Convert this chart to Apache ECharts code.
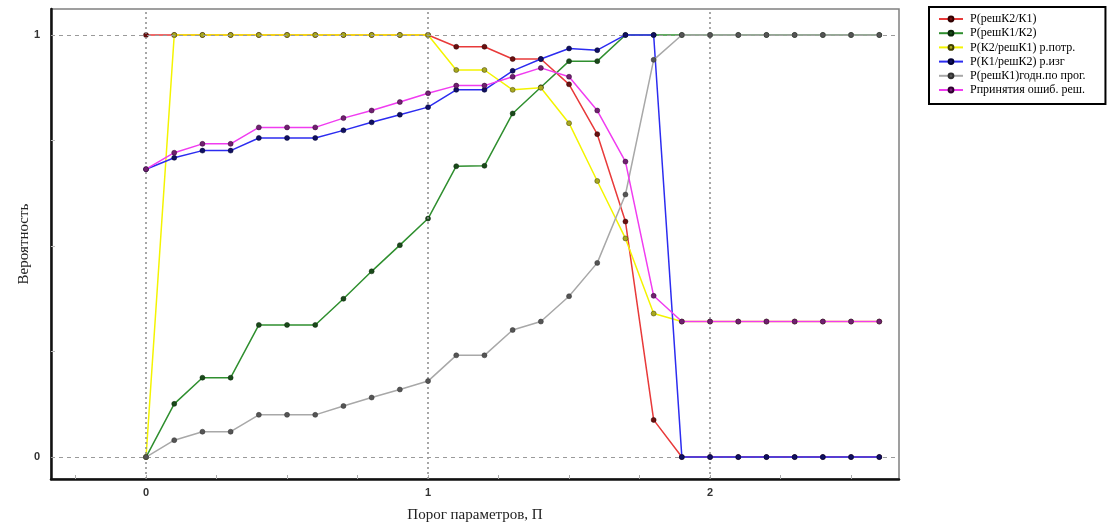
<!DOCTYPE html>
<html>
<head>
<meta charset="utf-8">
<script src="https://cdn.jsdelivr.net/npm/echarts@6/dist/echarts.min.js"></script>
<style>html,body{margin:0;padding:0;background:#fff;}#c{width:1109px;height:528px;}</style>
</head>
<body>
<div id="c"></div>
<script>
const thresholds = [0,0.1,0.2,0.3,0.4,0.5,0.6,0.7,0.8,0.9,1.0,1.1,1.2,1.3,1.4,1.5,1.6,1.7,1.8,1.9,2.0,2.1,2.2,2.3,2.4,2.5,2.6];
const pRedK2K1   = [1,1,1,1,1,1,1,1,1,1,1, 0.972,0.972,0.943,0.943,0.883,0.765,0.558,0.088,0, 0,0,0,0,0,0,0];
const pGreenK1K2 = [0,0.126,0.188,0.188,0.313,0.313,0.313,0.375,0.44,0.502,0.565, 0.689,0.690,0.814,0.876,0.938,0.938,1,1,1, 1,1,1,1,1,1,1];
const pYellow    = [0,1,1,1,1,1,1,1,1,1,1, 0.917,0.917,0.870,0.875,0.791,0.654,0.518,0.340,0.321, 0.321,0.321,0.321,0.321,0.321,0.321,0.321];
const pBlue      = [0.682,0.709,0.726,0.726,0.756,0.756,0.756,0.774,0.793,0.811,0.829, 0.870,0.870,0.915,0.943,0.968,0.964,1,1,0, 0,0,0,0,0,0,0];
const pGray      = [0,0.040,0.060,0.060,0.1,0.1,0.1,0.121,0.141,0.160,0.180, 0.241,0.241,0.301,0.321,0.381,0.460,0.622,0.941,1, 1,1,1,1,1,1,1];
const pPink      = [0.682,0.721,0.742,0.742,0.781,0.781,0.781,0.803,0.821,0.841,0.862, 0.880,0.880,0.901,0.922,0.901,0.821,0.700,0.382,0.321, 0.321,0.321,0.321,0.321,0.321,0.321,0.321];

const seriesNames = ['P(решК2/К1)','P(решК1/К2)','P(К2/решК1) р.потр.','P(К1/решК2) р.изг','P(решК1)годн.по прог.','Рпринятия ошиб. реш.'];
const xTickLabels = [0,1,2];
const yTickLabels = [0,1];
const xMinorTicks = [-0.25,0,0.25,0.5,0.75,1,1.25,1.5,1.75,2,2.25,2.5];
const yMinorTicks = [0,0.25,0.5,0.75,1];
const gridX = [0,1,2];
const gridY = [0,1];

const lineColors = ['#e83a3a','#2f8f2f','#f4f400','#2c2cf0','#a8a8a8','#f03cf0'];
const dotColors  = ['#6a1010','#1a4a1a','#a8a820','#101060','#555555','#702070'];
const dotBorders = ['#300000','#0a250a','#404000','#000030','#303030','#300030'];
const values = [pRedK2K1,pGreenK1K2,pYellow,pBlue,pGray,pPink];

const series = [{
  type:'line', name:'_grid', data:[], silent:true, z:1,
  markLine:{
    silent:true, symbol:['none','none'], label:{show:false}, animation:false,
    emphasis:{disabled:true},
    data: gridX.map(v=>({xAxis:v, lineStyle:{color:'#8a8a8a', type:[2,3], width:1.5}}))
      .concat(gridY.map(v=>({yAxis:v, lineStyle:{color:'#9a9a9a', type:[4,4], width:1}})))
  }
}];
values.forEach((arr,i)=>{
  series.push({
    type:'line', name:seriesNames[i], z:2+i,
    data: thresholds.map((x,k)=>[x,arr[k]]),
    symbol:'circle', symbolSize:5, showSymbol:true,
    lineStyle:{color:lineColors[i], width:1.5},
    itemStyle:{color:dotColors[i], borderColor:dotBorders[i], borderWidth:0.5},
    emphasis:{disabled:true}, animation:false
  });
});

const chart = echarts.init(document.getElementById('c'));
chart.setOption({
  animation:false,
  backgroundColor:'#fff',
  grid:{left:51, right:210, top:9, bottom:48, show:true, borderColor:'#808080', borderWidth:1.5, backgroundColor:'transparent'},
  xAxis:{
    type:'value', min:-0.337, max:2.67,
    name:'Порог параметров, П', nameLocation:'middle', nameGap:29, nameMoveOverlap:false,
    nameTextStyle:{fontFamily:'Liberation Serif', fontSize:15, color:'#222'},
    axisLine:{show:true, onZero:false, lineStyle:{color:'#111', width:2.5}},
    axisTick:{show:true, inside:true, length:4, customValues:xMinorTicks, lineStyle:{color:'#aaa'}},
    axisLabel:{customValues:xTickLabels, margin:8, fontFamily:'Liberation Sans', fontWeight:'bold', fontSize:11, color:'#333'},
    splitLine:{show:false}
  },
  yAxis:{
    type:'value', min:-0.052, max:1.0615,
    name:'Вероятность', nameLocation:'middle', nameGap:19, nameMoveOverlap:false,
    nameTextStyle:{fontFamily:'Liberation Serif', fontSize:15, color:'#222'},
    axisLine:{show:true, onZero:false, lineStyle:{color:'#111', width:2.5}},
    axisTick:{show:true, inside:true, length:4, customValues:yMinorTicks, lineStyle:{color:'#bbb'}},
    axisLabel:{customValues:yTickLabels, margin:11, fontFamily:'Liberation Sans', fontWeight:'bold', fontSize:11, color:'#333'},
    splitLine:{show:false}
  },
  legend:{
    data:seriesNames, orient:'vertical', left:929, top:7,
    padding:[6,20,8,9], itemGap:2.2, itemWidth:24, itemHeight:6,
    borderColor:'#000', borderWidth:2, backgroundColor:'#fff',
    textStyle:{fontFamily:'Liberation Serif', fontSize:12, color:'#000', padding:[0,0,0,2]},
    selectedMode:false
  },
  series: series
});
</script>
</body>
</html>
